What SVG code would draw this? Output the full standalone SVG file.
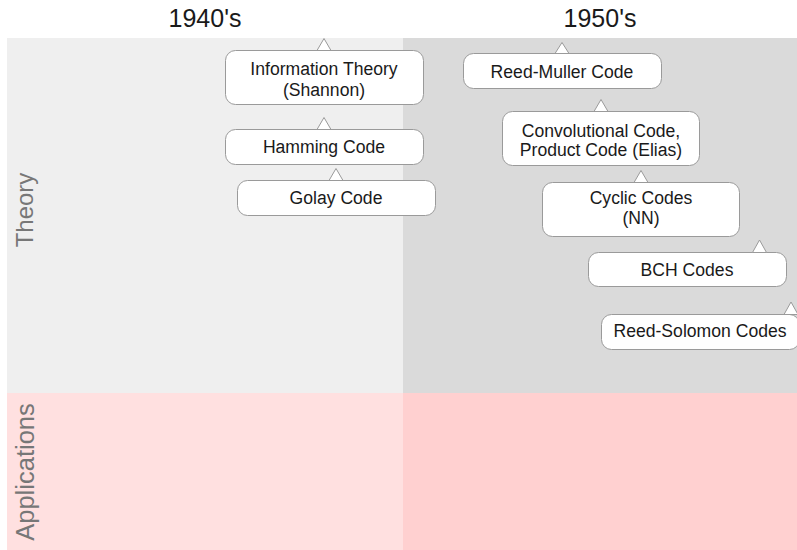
<svg xmlns="http://www.w3.org/2000/svg" width="797" height="550" viewBox="0 0 797 550">
<style>
.title{font-family:"Liberation Sans",Arial,sans-serif;font-size:25px;fill:#1a1a1a;text-anchor:middle}
.lane{font-family:"Liberation Sans",Arial,sans-serif;font-size:24px;fill:#777777;text-anchor:middle}
.box{fill:#ffffff;stroke:#9a9a9a;stroke-width:1}
.lbl{font-family:"Liberation Sans",Arial,sans-serif;font-size:17.6px;fill:#1a1a1a;text-anchor:middle}
.arrow{fill:#ffffff;stroke:#9a9a9a;stroke-width:1;stroke-linejoin:miter}
</style>
<rect width="797" height="550" fill="#ffffff"/>
<g id="background">
<rect x="7" y="38" width="396" height="355" fill="#efefef"/>
<rect x="403" y="38" width="394" height="355" fill="#dadada"/>
<rect x="7" y="393" width="396" height="157" fill="#ffe0e0"/>
<rect x="403" y="393" width="394" height="157" fill="#ffd0d0"/>
</g>
<g id="headers">
<text class="title" x="205" y="27">1940's</text>
<text class="title" x="600" y="27">1950's</text>
<text class="lane" transform="translate(33,210) rotate(-90)">Theory</text>
<text class="lane" style="font-size:25.5px" transform="translate(34,472) rotate(-90)">Applications</text>
</g>
<g id="node-information-theory">
<rect class="box" x="225.5" y="50.5" width="198" height="54" rx="10"/>
<text class="lbl" x="324" y="75">Information Theory</text>
<text class="lbl" x="324" y="95.5">(Shannon)</text>
</g>
<g id="node-hamming">
<rect class="box" x="225.5" y="129.5" width="198" height="35" rx="10"/>
<text class="lbl" x="324" y="153">Hamming Code</text>
</g>
<g id="node-golay">
<rect class="box" x="237.5" y="180.5" width="198" height="35" rx="10"/>
<text class="lbl" x="336" y="204">Golay Code</text>
</g>
<g id="node-reed-muller">
<rect class="box" x="463.5" y="53.5" width="198" height="35" rx="10"/>
<text class="lbl" x="562" y="77.5">Reed-Muller Code</text>
</g>
<g id="node-convolutional">
<rect class="box" x="502.5" y="111.5" width="197" height="54" rx="10"/>
<text class="lbl" x="601" y="136.5">Convolutional Code,</text>
<text class="lbl" x="601" y="156">Product Code (Elias)</text>
</g>
<g id="node-cyclic">
<rect class="box" x="542.5" y="182.5" width="197" height="54" rx="10"/>
<text class="lbl" x="641" y="203.5">Cyclic Codes</text>
<text class="lbl" x="641" y="223.5">(NN)</text>
</g>
<g id="node-bch">
<rect class="box" x="588.5" y="252.5" width="198" height="34" rx="10"/>
<text class="lbl" x="687" y="275.5">BCH Codes</text>
</g>
<g id="node-reed-solomon">
<rect class="box" x="601.5" y="314.5" width="198" height="35" rx="10"/>
<text class="lbl" x="700" y="337">Reed-Solomon Codes</text>
</g>
<g id="connectors">
<path class="arrow" d="M317,50.5 L324,38.5 L331,50.5 Z"/>
<path class="arrow" d="M317,129.5 L324,117.5 L331,129.5 Z"/>
<path class="arrow" d="M329,180.5 L336,168.5 L343,180.5 Z"/>
<path class="arrow" d="M555,53.5 L562,42.5 L569,53.5 Z"/>
<path class="arrow" d="M594,111.5 L601,99.5 L608,111.5 Z"/>
<path class="arrow" d="M634,182.5 L641,170.5 L648,182.5 Z"/>
<path class="arrow" d="M752.5,252.5 L759.5,240 L766.5,252.5 Z"/>
<path class="arrow" d="M784,314.5 L791,302 L798,314.5 Z"/>
</g>
</svg>
